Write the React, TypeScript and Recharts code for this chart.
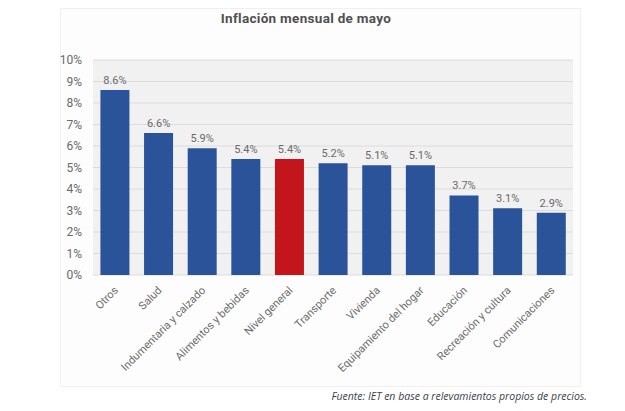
import { BarChart, Bar, XAxis, YAxis, CartesianGrid, Cell, LabelList } from 'recharts'

const categories = [
  'Otros',
  'Salud',
  'Indumentaria y calzado',
  'Alimentos y bebidas',
  'Nivel general',
  'Transporte',
  'Vivienda',
  'Equipamiento del hogar',
  'Educación',
  'Recreación y cultura',
  'Comunicaciones',
]

const values = [8.6, 6.6, 5.9, 5.4, 5.4, 5.2, 5.1, 5.1, 3.7, 3.1, 2.9]

const yTicks = [0, 1, 2, 3, 4, 5, 6, 7, 8, 9, 10]

const highlight = 'Nivel general'

const BLUE = '#2a5399'
const RED = '#c3161c'
const FONT = 'Roboto, "DejaVu Sans", sans-serif'

const chartData = categories.map((name, i) => ({ name, value: values[i] }))

const AngledTick = ({ x, y, payload }: any) => (
  <text
    x={x + 4}
    y={y + 8}
    transform={`rotate(-45, ${x + 4}, ${y + 8})`}
    textAnchor="end"
    fontSize={11}
    fill="#6a6a6a"
    fontFamily={FONT}
  >
    {payload.value}
  </text>
)

export default function App() {
  return (
    <div style={{ position: 'absolute', left: 0, top: 0, width: 625, height: 411, background: '#fff' }}>
      <svg width={625} height={411} style={{ position: 'absolute', left: 0, top: 0 }}>
        <rect x={60.5} y={8.5} width={520} height={378} fill="#fdfdfd" stroke="#f0f0f0" />
        <text
          x={306}
          y={23}
          textAnchor="middle"
          fontSize={13.5}
          fontWeight={700}
          fill="#505050"
          fontFamily={FONT}
          letterSpacing={0.3}
        >
          Inflación mensual de mayo
        </text>
        <text
          x={587}
          y={400}
          textAnchor="end"
          fontSize={10.5}
          fontStyle="italic"
          fill="#3a3f4a"
          fontFamily='"Open Sans", sans-serif'
        >
          Fuente: IET en base a relevamientos propios de precios.
        </text>
      </svg>
      <div style={{ position: 'absolute', left: 0, top: 0 }}>
        <BarChart
          width={625}
          height={411}
          data={chartData}
          margin={{ top: 60, right: 52, bottom: 0, left: 0 }}
          barCategoryGap="17%"
        >
          <CartesianGrid vertical={false} stroke="#dcdcdc" fill="#f1f1f1" />
          <XAxis
            dataKey="name"
            interval={0}
            axisLine={false}
            tickLine={false}
            tick={<AngledTick />}
            height={136}
          />
          <YAxis
            domain={[0, 10]}
            ticks={yTicks}
            interval={0}
            axisLine={false}
            tickLine={false}
            tickSize={0}
            tickMargin={11}
            width={93}
            tickFormatter={(v: number) => `${v}%`}
            tick={{ fontSize: 12, fill: '#6a6a6a', fontFamily: FONT }}
          />
          <Bar dataKey="value" isAnimationActive={false}>
            {chartData.map((d, i) => (
              <Cell key={`cell-${i}`} fill={d.name === highlight ? RED : BLUE} />
            ))}
            <LabelList
              dataKey="value"
              position="top"
              offset={6}
              formatter={(v: number) => `${v.toFixed(1)}%`}
              style={{ fontSize: 11, fill: '#6a6a6a', fontFamily: FONT }}
            />
          </Bar>
        </BarChart>
      </div>
    </div>
  )
}
